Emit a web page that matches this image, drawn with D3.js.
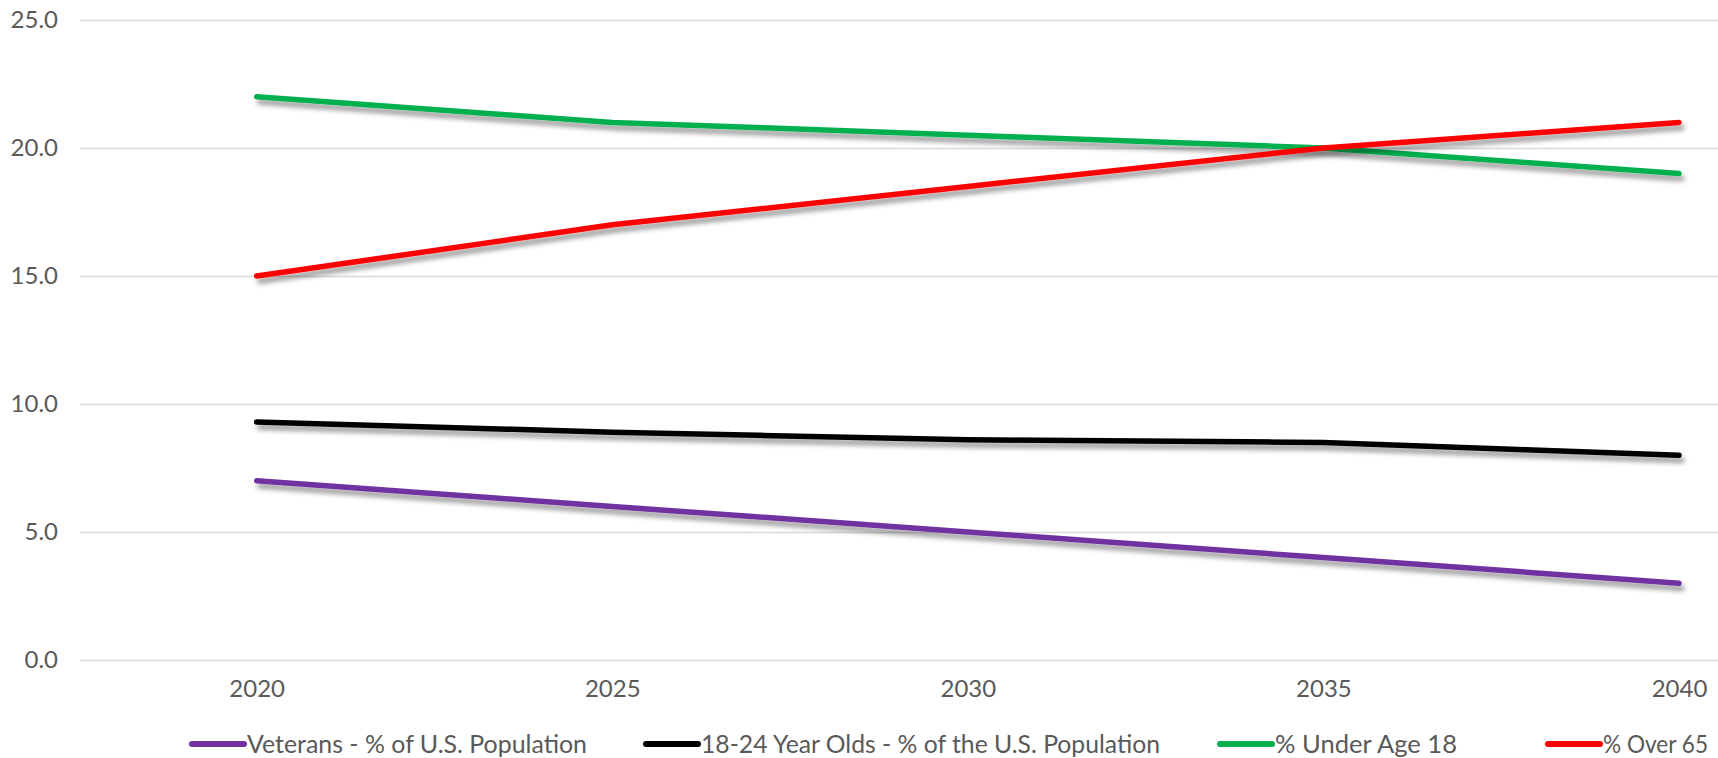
<!DOCTYPE html>
<html>
<head>
<meta charset="utf-8">
<script src="https://cdn.jsdelivr.net/npm/d3@7"></script>
<style>
  body { margin: 0; background: #fff; }
  text { font-family: Lato, "Open Sans", sans-serif; fill: #595959; }
</style>
</head>
<body>
<div id="chart-area"></div>
<script>
// Data
let years = [2020, 2025, 2030, 2035, 2040];
let veterans = [7.0, 6.0, 5.0, 4.0, 3.0];
let youngAdults = [9.3, 8.9, 8.6, 8.5, 8.0];
let underAge18 = [22.0, 21.0, 20.5, 20.0, 19.0];
let over65 = [15.0, 17.0, 18.5, 20.0, 21.0];
let yTicks = [0, 5, 10, 15, 20, 25];

let series = [
  { name: 'Veterans - % of U.S. Population', values: veterans, color: '#7030A0' },
  { name: '18-24 Year Olds - % of the U.S. Population', values: youngAdults, color: '#000000' },
  { name: '% Under Age 18', values: underAge18, color: '#00B050' },
  { name: '% Over 65', values: over65, color: '#FF0000' }
];

// SVG drawing area
let width = 1718, height = 758;
let plotLeft = 80, plotRight = 1718;

let svg = d3
  .select('#chart-area')
  .append('svg')
  .attr('width', width)
  .attr('height', height);

// shadow under the lines
let filter = svg.append('defs').append('filter')
  .attr('id', 'shadow')
  .attr('x', '-10%').attr('y', '-50%')
  .attr('width', '120%').attr('height', '200%');
filter.append('feDropShadow')
  .attr('dx', 3)
  .attr('dy', 5)
  .attr('stdDeviation', 2.5)
  .attr('flood-color', '#000')
  .attr('flood-opacity', 0.4);

// Scales
let x = d3.scaleLinear().domain([2020, 2040]).range([256.7, 1679]);
let y = d3.scaleLinear().domain([0, 25]).range([660, 20]);

// Gridlines + y labels
let yAxis = d3.axisLeft(y)
  .tickValues(yTicks)
  .tickSize(-(plotRight - plotLeft))
  .tickPadding(22)
  .tickFormat(d3.format('.1f'));

let ySvg = svg.append('g')
  .attr('class', 'y-axis')
  .attr('transform', 'translate(' + plotLeft + ',0)')
  .call(yAxis);
ySvg.select('.domain').remove();
ySvg.selectAll('line').attr('stroke', '#D9D9D9').attr('stroke-width', 1.3);
ySvg.selectAll('text')
  .attr('fill', '#595959')
  .style('font-size', '24px')
  .style('font-family', 'Lato, sans-serif');

// x labels
let xAxis = d3.axisBottom(x)
  .tickValues(years)
  .tickSize(0)
  .tickPadding(20)
  .tickFormat(d3.format('d'));

let xSvg = svg.append('g')
  .attr('class', 'x-axis')
  .attr('transform', 'translate(0,' + 660 + ')')
  .call(xAxis);
xSvg.select('.domain').remove();
xSvg.selectAll('text')
  .attr('fill', '#595959')
  .style('font-size', '24px')
  .style('font-family', 'Lato, sans-serif');

// Lines
let line = d3.line()
  .x((d, i) => x(years[i]))
  .y(d => y(d));

svg.selectAll('.series')
  .data(series)
  .enter()
  .append('path')
  .attr('class', 'series')
  .attr('d', d => line(d.values))
  .attr('fill', 'none')
  .attr('stroke', d => d.color)
  .attr('stroke-width', 5.5)
  .attr('stroke-linecap', 'round')
  .attr('stroke-linejoin', 'round')
  .attr('filter', 'url(#shadow)');

// Legend (item start positions and text widths follow the original layout)
let legendStarts = [192, 646, 1220, 1548];
let legendWidths = [340, 459, 182, 105];
let legendY = 744;
let legend = svg.append('g').attr('class', 'legend');
series.forEach((s, i) => {
  let lx = legendStarts[i];
  let g = legend.append('g');
  g.append('line')
    .attr('x1', lx).attr('x2', lx + 52)
    .attr('y1', legendY).attr('y2', legendY)
    .attr('stroke', s.color)
    .attr('stroke-width', 6)
    .attr('stroke-linecap', 'round');
  g.append('text')
    .attr('x', lx + 55)
    .attr('y', legendY)
    .attr('dy', '0.35em')
    .attr('textLength', legendWidths[i])
    .attr('lengthAdjust', 'spacingAndGlyphs')
    .style('font-size', '25px')
    .text(s.name);
});
</script>
</body>
</html>
